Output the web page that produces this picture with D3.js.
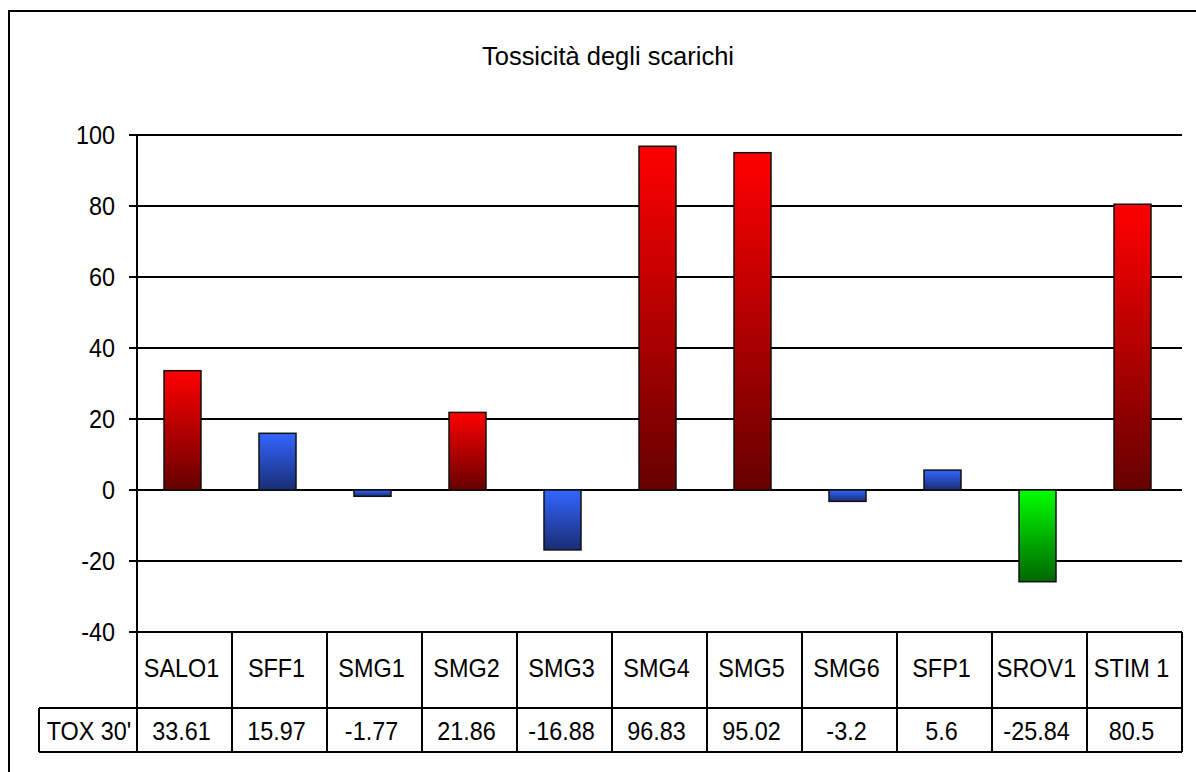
<!DOCTYPE html>
<html>
<head>
<meta charset="utf-8">
<script src="https://cdn.jsdelivr.net/npm/d3@7"></script>
<style>
    body { margin: 0; background: #fff; }
    svg { display: block; }
    text { font-family: "Liberation Sans", Arial, sans-serif; fill: #000; }
</style>
</head>
<body>
<div id="container"></div>
<script>
var svgWidth = 1196;
var svgHeight = 772;

var chartTitle = 'Tossicità degli scarichi';
var seriesName = "TOX 30'";
var categories = ['SALO1', 'SFF1', 'SMG1', 'SMG2', 'SMG3', 'SMG4', 'SMG5', 'SMG6', 'SFP1', 'SROV1', 'STIM 1'];
var values = [33.61, 15.97, -1.77, 21.86, -16.88, 96.83, 95.02, -3.2, 5.6, -25.84, 80.5];
var yTicks = [-40, -20, 0, 20, 40, 60, 80, 100];

var plotLeft = 137, plotRight = 1182, plotTop = 135, plotBottom = 632;
var row1Bottom = 708, row2Bottom = 752, labelLeft = 39;
var fontSize = 26, squeeze = 0.9;

var svg = d3.select('body').select('#container').append('svg')
        .attr("width", svgWidth)
        .attr("height", svgHeight)
;

// gradients: bright at top of each bar, dark at bottom
var gradients = {
    red: ['#ff0000', '#660000'],
    blue: ['#3366ff', '#1a2d75'],
    green: ['#00ff00', '#006600']
};
var defs = svg.append('defs');
Object.keys(gradients).forEach(function (name) {
    var g = defs.append('linearGradient')
        .attr('id', 'grad-' + name)
        .attr('x1', 0).attr('y1', 0).attr('x2', 0).attr('y2', 1);
    g.append('stop').attr('offset', '0%').attr('stop-color', gradients[name][0]);
    g.append('stop').attr('offset', '100%').attr('stop-color', gradients[name][1]);
});

function colorFor(v) {
    if (v > 20) return 'red';
    if (v < -20) return 'green';
    return 'blue';
}

// outer frame (only top and left edges show in the picture)
svg.append('rect')
    .attr('x', 9).attr('y', 11)
    .attr('width', svgWidth + 20).attr('height', svgHeight + 20)
    .style('fill', 'none')
    .style('stroke', '#000')
    .style('stroke-width', 2)
;

function addText(parent, x, y, str, anchor, sx) {
    return parent.append('text')
        .attr('transform', 'translate(' + x + ',' + y + ') scale(' + (sx || squeeze) + ',1)')
        .attr('text-anchor', anchor || 'middle')
        .style('font-size', fontSize + 'px')
        .text(str);
}

addText(svg, 608, 65, chartTitle, 'middle', 0.98);

var x = d3.scaleBand()
    .domain(categories)
    .range([plotLeft, plotRight]);

var y = d3.scaleLinear()
    .domain([-40, 100])
    .range([plotBottom, plotTop]);

// gridlines + ticks
svg.append('g').selectAll('line')
    .data(yTicks)
    .enter().append('line')
    .attr('x1', plotLeft - 8)
    .attr('x2', plotRight)
    .attr('y1', function (d) { return y(d); })
    .attr('y2', function (d) { return y(d); })
    .style('stroke', '#000')
    .style('stroke-width', 2)
;

var tickLabels = svg.append('g');
yTicks.forEach(function (t) {
    addText(tickLabels, 115, y(t) + 9, t, 'end');
});

// axis line
svg.append('line')
    .attr('x1', plotLeft).attr('x2', plotLeft)
    .attr('y1', plotTop).attr('y2', row2Bottom)
    .style('stroke', '#000')
    .style('stroke-width', 2)
;

// bars
var barWidth = 37;
svg.append('g').selectAll('rect')
    .data(values)
    .enter().append('rect')
    .attr('x', function (d, i) { return x(categories[i]) + x.bandwidth() / 2 - barWidth / 2 - 2; })
    .attr('y', function (d) { return y(Math.max(0, d)); })
    .attr('width', barWidth)
    .attr('height', function (d) { return Math.abs(y(d) - y(0)); })
    .style('fill', function (d) { return 'url(#grad-' + colorFor(d) + ')'; })
    .style('stroke', '#111')
    .style('stroke-width', 1.5)
;

// data table
var table = svg.append('g');
var colEdges = categories.map(function (c) { return x(c); }).concat([plotRight]);

table.selectAll('line.col')
    .data(colEdges)
    .enter().append('line')
    .attr('class', 'col')
    .attr('x1', function (d) { return d; })
    .attr('x2', function (d) { return d; })
    .attr('y1', plotBottom)
    .attr('y2', row2Bottom)
    .style('stroke', '#000')
    .style('stroke-width', 2)
;

[row1Bottom, row2Bottom].forEach(function (ry) {
    table.append('line')
        .attr('x1', labelLeft).attr('x2', plotRight)
        .attr('y1', ry).attr('y2', ry)
        .style('stroke', '#000')
        .style('stroke-width', 2);
});
table.append('line')
    .attr('x1', labelLeft).attr('x2', labelLeft)
    .attr('y1', row1Bottom).attr('y2', row2Bottom)
    .style('stroke', '#000')
    .style('stroke-width', 2)
;

categories.forEach(function (c, i) {
    var cx = x(c) + x.bandwidth() / 2 - 3;
    addText(table, cx, 677, c, 'middle');
    addText(table, cx, 740, values[i], 'middle');
});
addText(table, (labelLeft + plotLeft) / 2 + 1, 740, seriesName, 'middle');
</script>
</body>
</html>
